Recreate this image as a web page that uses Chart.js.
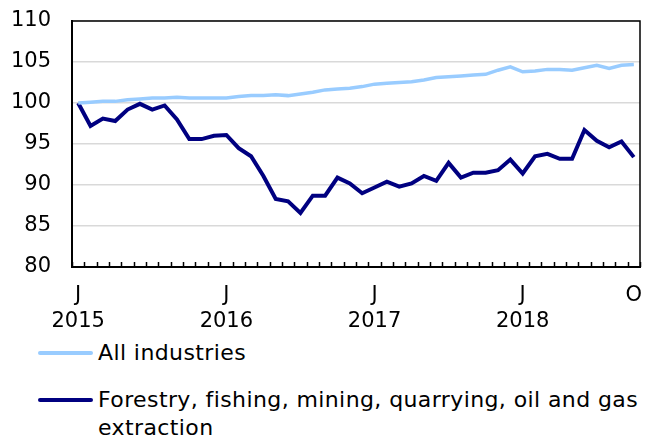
<!DOCTYPE html>
<html>
<head>
<meta charset="utf-8">
<script src="https://cdn.jsdelivr.net/npm/chart.js@4"></script>
<style>
  body { margin: 0; background: #fff; font-family: "DejaVu Sans", sans-serif; }
  #wrap { position: relative; width: 650px; height: 439px; }
  #legend { position: absolute; left: 0; top: 0; width: 650px; }
  .item { position: absolute; left: 98px; width: 552px; font-size: 22px; letter-spacing: 0.4px; line-height: 28px; color: #000; }
  .swatch { position: absolute; left: -60px; top: 12px; width: 55px; height: 4px; border-radius: 2px; }
</style>
</head>
<body>
<div id="wrap">
  <canvas id="indexChart" width="650" height="330"></canvas>
  <div id="legend"></div>
</div>
<script>
// months Jan 2015 - Oct 2018
const months = [
  "2015-01", "2015-02", "2015-03", "2015-04", "2015-05", "2015-06", "2015-07", "2015-08", "2015-09", "2015-10", "2015-11", "2015-12",
  "2016-01", "2016-02", "2016-03", "2016-04", "2016-05", "2016-06", "2016-07", "2016-08", "2016-09", "2016-10", "2016-11", "2016-12",
  "2017-01", "2017-02", "2017-03", "2017-04", "2017-05", "2017-06", "2017-07", "2017-08", "2017-09", "2017-10", "2017-11", "2017-12",
  "2018-01", "2018-02", "2018-03", "2018-04", "2018-05", "2018-06", "2018-07", "2018-08", "2018-09", "2018-10",
];

const allIndustries = [
  100.0, 100.1, 100.2, 100.2, 100.4, 100.5, 100.6, 100.6, 100.7, 100.6, 100.6, 100.6,
  100.6, 100.8, 100.9, 100.9, 101.0, 100.9, 101.1, 101.3, 101.6, 101.7, 101.8, 102.0,
  102.3, 102.4, 102.5, 102.6, 102.8, 103.1, 103.2, 103.3, 103.4, 103.5, 104.0, 104.4,
  103.8, 103.9, 104.1, 104.1, 104.0, 104.3, 104.6, 104.2, 104.6, 104.7,
];

const forestryMining = [
  100.0, 97.2, 98.1, 97.8, 99.2, 99.9, 99.2, 99.7, 98.0, 95.6, 95.6, 96.0,
  96.1, 94.5, 93.5, 91.1, 88.3, 88.0, 86.6, 88.7, 88.7, 90.9, 90.2, 89.0,
  89.7, 90.4, 89.8, 90.2, 91.1, 90.5, 92.7, 90.9, 91.5, 91.5, 91.8, 93.1,
  91.4, 93.5, 93.8, 93.2, 93.2, 96.7, 95.4, 94.6, 95.3, 93.4,
];

const seriesNames = ["All industries", "Forestry, fishing, mining, quarrying, oil and gas extraction"];
const seriesColors = ["#99ccff", "#000080"];

// x tick labels, shown only at these month positions
const tickIndex = [0, 12, 24, 36, 45];
const tickText = [["J", "2015"], ["J", "2016"], ["J", "2017"], ["J", "2018"], "O"];

Chart.defaults.font.family = "'DejaVu Sans', sans-serif";
Chart.defaults.font.size = 21;
Chart.defaults.color = "#000";

// plot frame + inward tick marks on the x axis
const framePlugin = {
  id: "frame",
  afterDatasetsDraw(chart) {
    const { ctx, chartArea } = chart;
    const x = chart.scales.x;
    ctx.save();
    ctx.strokeStyle = "#000";
    ctx.lineWidth = 1.5;
    ctx.beginPath();
    ctx.moveTo(chartArea.left, chartArea.top);
    ctx.lineTo(chartArea.right, chartArea.top);
    ctx.lineTo(chartArea.right, chartArea.bottom);
    ctx.stroke();
    ctx.beginPath();
    for (let i = 0; i <= months.length; i++) {
      const px = Math.round(x.getPixelForValue(i - 0.5)) + 0.5;
      ctx.moveTo(px, chartArea.bottom);
      ctx.lineTo(px, chartArea.bottom - 5);
    }
    ctx.stroke();
    ctx.restore();
  },
};

const chartCtx = document.getElementById("indexChart");
if (chartCtx) {
  new Chart(chartCtx, {
    type: "line",
    data: {
      labels: months,
      datasets: [
        {
          label: seriesNames[0],
          data: allIndustries,
          borderColor: seriesColors[0],
          borderWidth: 3.5,
          pointRadius: 0,
          tension: 0,
        },
        {
          label: seriesNames[1],
          data: forestryMining,
          borderColor: seriesColors[1],
          borderWidth: 4,
          pointRadius: 0,
          tension: 0,
        },
      ],
    },
    options: {
      responsive: false,
      animation: false,
      layout: { padding: { top: 21, right: 10, left: 0, bottom: 0 } },
      plugins: {
        legend: { display: false },
        tooltip: { enabled: false },
      },
      scales: {
        x: {
          offset: true,
          grid: { display: false, drawTicks: false },
          border: { color: "#000", width: 2 },
          ticks: {
            autoSkip: false,
            maxRotation: 0,
            padding: 15,
            font: { lineHeight: 1.25 },
            callback: function (val, i) {
              const k = tickIndex.indexOf(i);
              return k >= 0 ? tickText[k] : "";
            },
          },
          afterFit: function (scale) {
            scale.height = 63;
            scale.paddingLeft = 0;
            scale.paddingRight = 0;
          },
        },
        y: {
          min: 80,
          max: 110,
          grid: { color: "#d9d9d9", lineWidth: 1.5, drawTicks: false },
          border: { color: "#000", width: 2 },
          ticks: { stepSize: 5, padding: 21 },
          afterFit: function (scale) {
            scale.width = 72;
            scale.paddingTop = 0;
            scale.paddingBottom = 0;
          },
        },
      },
    },
    plugins: [framePlugin],
  });
}

// legend below the chart
const legendTops = [339, 386];
const legendEl = document.getElementById("legend");
seriesNames.forEach(function (name, i) {
  const item = document.createElement("div");
  item.className = "item";
  item.style.top = legendTops[i] + "px";
  const sw = document.createElement("span");
  sw.className = "swatch";
  sw.style.background = seriesColors[i];
  item.appendChild(sw);
  item.appendChild(document.createTextNode(name));
  legendEl.appendChild(item);
});
</script>
</body>
</html>
